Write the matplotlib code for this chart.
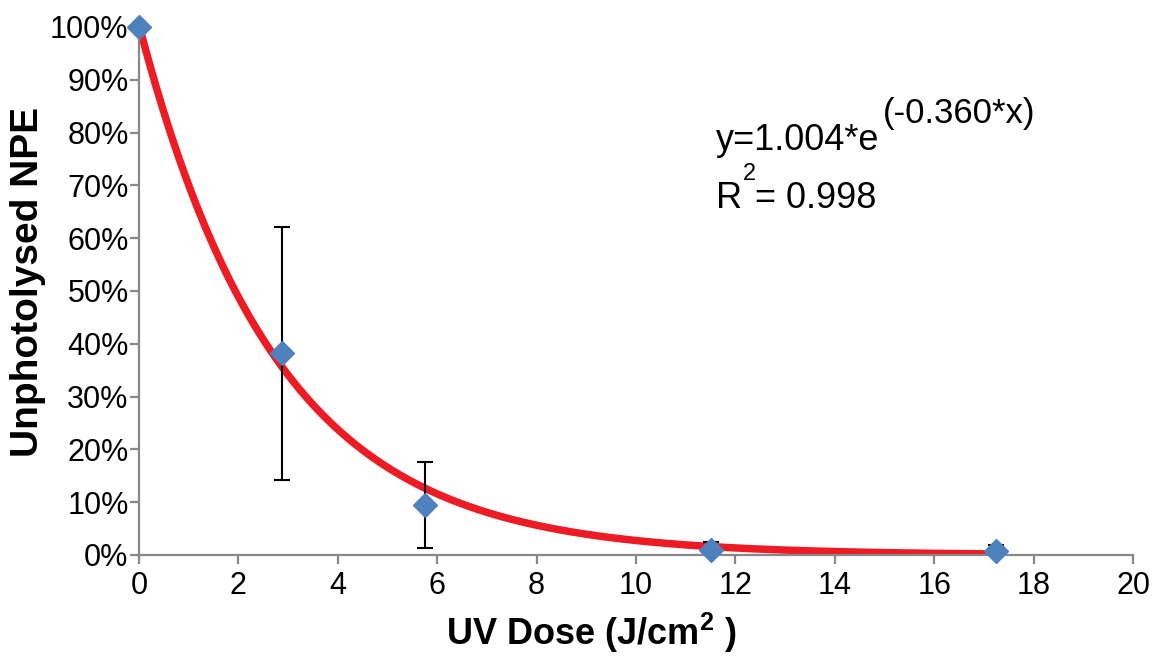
import numpy as np
import matplotlib.pyplot as plt
from matplotlib.ticker import PercentFormatter

plt.rcParams['font.family'] = ['Liberation Sans', 'DejaVu Sans']
plt.rcParams['mathtext.fontset'] = 'custom'
plt.rcParams['mathtext.rm'] = 'Liberation Sans'
plt.rcParams['mathtext.bf'] = 'Liberation Sans:bold'

# measured points (UV dose in J/cm2, fraction unphotolysed)
dose = [0.0, 2.87, 5.75, 11.5, 17.25]
remaining = [1.0, 0.382, 0.095, 0.010, 0.007]
err = [0.0, 0.240, 0.082, 0.015, 0.011]

# exponential trendline from the chart
fit_a = 1.004
fit_k = 0.360
fit_r2 = 0.998

W, H = 1158, 661
fig = plt.figure(figsize=(W / 100, H / 100), dpi=100)
ax = fig.add_axes([139 / W, 1 - 555 / H, (1133 - 139) / W, (555 - 27) / H])

xs = np.linspace(0, max(dose), 300)
ax.plot(xs, fit_a * np.exp(-fit_k * xs), color="#ED1C24", lw=5.4,
        solid_capstyle="butt", zorder=2)
ax.errorbar(dose, remaining, yerr=err, fmt="none", ecolor="black",
            elinewidth=1.5, capsize=6, capthick=1.5, zorder=3)
ax.plot(dose, remaining, ls="none", marker="D", ms=12, color="#4F81BD",
        mec="#4F81BD", zorder=4, clip_on=False)

ax.set_xlim(0, 20)
ax.set_ylim(0, 1.0)
ax.set_xticks(range(0, 21, 2))
ax.set_yticks(np.arange(0, 1.01, 0.1))
ax.yaxis.set_major_formatter(PercentFormatter(1.0, decimals=0))

for s in ["top", "right"]:
    ax.spines[s].set_visible(False)
for s in ["left", "bottom"]:
    ax.spines[s].set_color("#888888")
    ax.spines[s].set_linewidth(1.6)
ax.tick_params(axis="both", colors="#888888", width=1.6, length=6.5,
               labelcolor="black", labelsize=22)
ax.tick_params(axis="y", pad=1)
ax.tick_params(axis="x", pad=5)

# axis titles
fig.text(28 / W, 1 - 282 / H, "Unphotolysed NPE", rotation=90,
         ha="center", va="center", fontsize=28, fontweight="bold")
fig.text(591 / W, 1 - 645 / H, r"UV Dose (J/cm$^{\mathbf{2}}$ )",
         ha="center", va="baseline", fontsize=26, fontweight="bold")

# trendline equation
fig.text(716 / W, 1 - 150 / H, "y=1.004*e", fontsize=26, va="baseline")
fig.text(883 / W, 1 - 123 / H, f"(-{fit_k:.3f}*x)", fontsize=25,
         va="baseline")
fig.text(716 / W, 1 - 208 / H, "R", fontsize=26, va="baseline")
fig.text(743 / W, 1 - 180 / H, "2", fontsize=17, va="baseline")
fig.text(755 / W, 1 - 208 / H, f"= {fit_r2:.3f}", fontsize=26,
         va="baseline")

fig.savefig("out.png", dpi=100, facecolor="white")
